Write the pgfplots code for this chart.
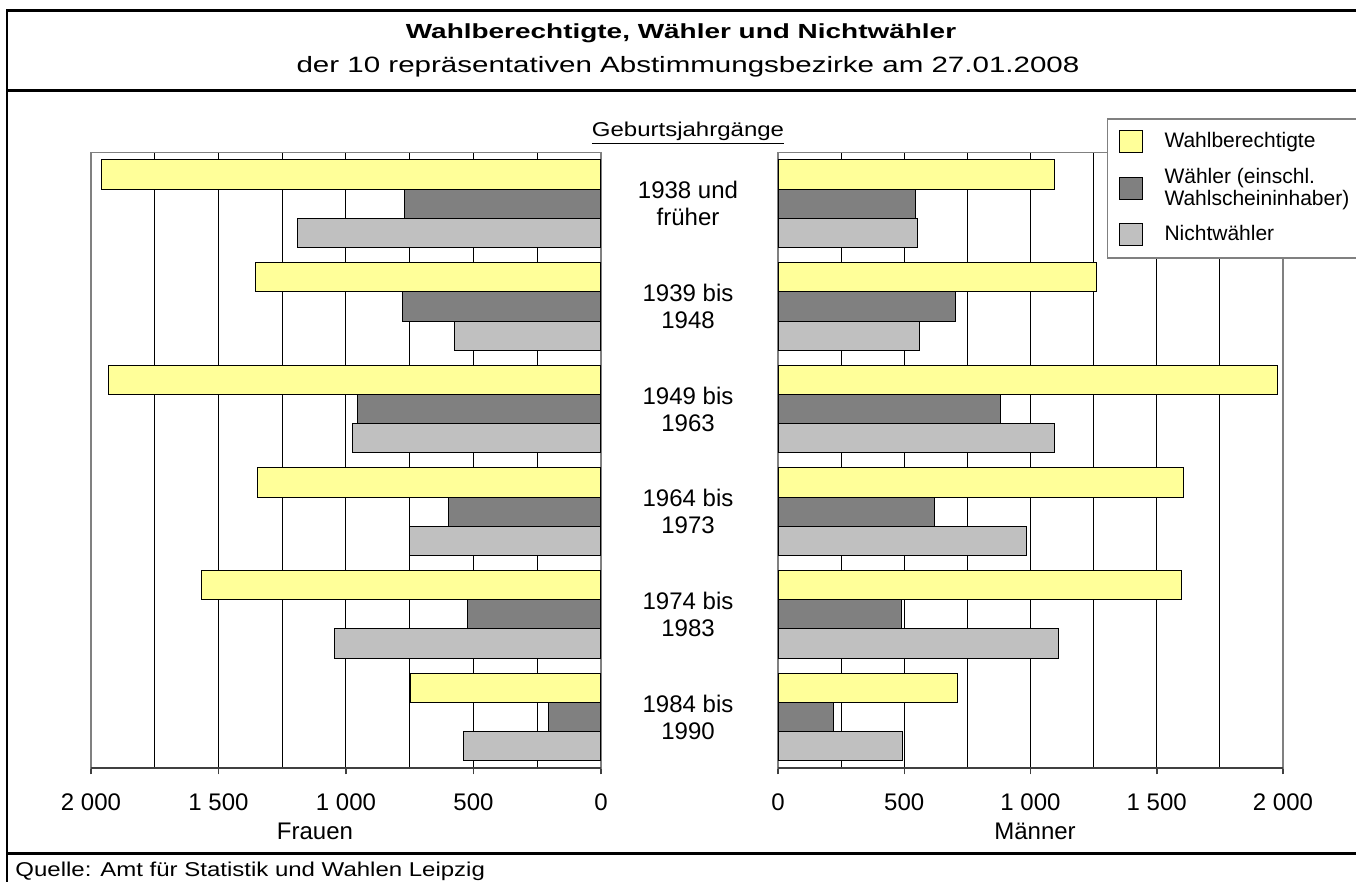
\documentclass[border=0pt]{standalone}
\usepackage{fontspec}
\setmainfont{Liberation Sans}
\newfontfamily\titlefont[FakeStretch=1.37]{Liberation Sans}
\newfontfamily\subfont[FakeStretch=1.33]{Liberation Sans}
\newfontfamily\widefont[FakeStretch=1.2]{Liberation Sans}
\usepackage{pgfplots}
\pgfplotsset{compat=1.18}
\definecolor{wb}{HTML}{FFFF99}
\definecolor{wa}{HTML}{808080}
\definecolor{nw}{HTML}{C0C0C0}
\definecolor{frame}{HTML}{808080}

\pgfplotsset{
  halfbar/.style={
    scale only axis, height=307.9pt,
    xbar, xmin=0, xmax=2000, ymin=-0.5, ymax=5.5, y dir=reverse,
    ytick=\empty,
    xtick={0,500,1000,1500,2000},
    xticklabels={0,500,1~000,1~500,2~000},
    minor xtick={250,750,1250,1750},
    xmajorgrids, xminorgrids,
    major grid style={black, line width=0.5pt},
    minor grid style={black, line width=0.5pt},
    tick align=outside, xtick pos=bottom,
    major tick length=3pt, minor tick length=0pt,
    tick style={draw=black!75, line width=0.75pt},
    axis line style={draw=frame, line width=0.9pt},
    xticklabel style={font=\fontsize{12}{14}\selectfont, anchor=base, yshift=-18.3pt},
    bar width=0.285,
    clip=false,
  },
}

\begin{document}
\begin{tikzpicture}
\begin{scope}[x=0.5pt,y=0.5pt]
% frame
\draw[line width=1.3pt] (7,-5) -- (7,871.3) -- (1370,871.3);
\draw[line width=1.3pt] (7,791.3) -- (1370,791.3);
\draw[line width=1.3pt] (7,28.3) -- (1370,28.3);
% titles
\node[anchor=base, inner sep=0pt, font=\titlefont\bfseries\fontsize{10.2}{12}\selectfont] at (681,843) {Wahlberechtigte, Wähler und Nichtwähler};
\node[anchor=base, inner sep=0pt, font=\subfont\fontsize{11.1}{13}\selectfont] at (688,809) {der 10 repräsentativen Abstimmungsbezirke am 27.01.2008};
\node[anchor=base, inner sep=0pt, font=\widefont\fontsize{10}{12}\selectfont] at (688,745.3) {\underline{Geburtsjahrgänge}};
\node[anchor=base west, inner sep=0pt, font=\widefont\fontsize{10}{12}\selectfont] at (15,5) {Quelle: Amt für Statistik und Wahlen Leipzig};
\node[anchor=base, inner sep=0pt, font=\fontsize{12}{14}\selectfont] at (315,42) {Frauen};
\node[anchor=base, inner sep=0pt, font=\fontsize{12}{14}\selectfont] at (1035,42) {Männer};
\end{scope}

% Frauen
\begin{axis}[halfbar, at={(45.5pt,56.85pt)}, anchor=south west, width=255pt, x dir=reverse]
\addplot[fill=wb, draw=black, line width=0.5pt, bar shift=-0.285] coordinates {(1959,0) (1354,1) (1932,2) (1347,3) (1568,4) (748,5)};
\addplot[fill=wa, draw=black, line width=0.5pt, bar shift=0] coordinates {(770,0) (778,1) (956,2) (598,3) (522,4) (207,5)};
\addplot[fill=nw, draw=black, line width=0.5pt, bar shift=0.285] coordinates {(1189,0) (576,1) (976,2) (749,3) (1046,4) (541,5)};
\draw[black!75, line width=0.9pt] (rel axis cs:0,0) -- (rel axis cs:1,0);
\end{axis}

% Maenner
\begin{axis}[halfbar, at={(389pt,56.85pt)}, anchor=south west, width=252.5pt,
  legend style={at={(0.651,1.056)}, anchor=north west, draw=frame, line width=0.75pt,
    font=\fontsize{10.5}{11.2}\selectfont, cells={anchor=west, align=left},
    inner xsep=5.5pt, inner ysep=5pt, row sep=4.5pt, column sep=9pt},
  legend image code/.code={\draw[#1, line width=0.5pt] (0pt,-5.5pt) rectangle (11.5pt,5.5pt);},
]
\addplot[fill=wb, draw=black, line width=0.5pt, bar shift=-0.285] coordinates {(1097,0) (1261,1) (1978,2) (1605,3) (1599,4) (712,5)};
\addlegendentry{Wahlberechtigte}
\addplot[fill=wa, draw=black, line width=0.5pt, bar shift=0] coordinates {(544,0) (702,1) (882,2) (619,3) (489,4) (220,5)};
\addlegendentry{Wähler (einschl.\\Wahlscheininhaber)}
\addplot[fill=nw, draw=black, line width=0.5pt, bar shift=0.285] coordinates {(551,0) (559,1) (1096,2) (986,3) (1110,4) (492,5)};
\addlegendentry{Nichtwähler}
\draw[black!75, line width=0.9pt] (rel axis cs:0,0) -- (rel axis cs:1,0);
\begin{scope}[every node/.style={align=center, font=\fontsize{12}{13.5}\selectfont}]
\node at (axis cs:-356.4,0) {1938 und\\früher};
\node at (axis cs:-356.4,1) {1939 bis\\1948};
\node at (axis cs:-356.4,2) {1949 bis\\1963};
\node at (axis cs:-356.4,3) {1964 bis\\1973};
\node at (axis cs:-356.4,4) {1974 bis\\1983};
\node at (axis cs:-356.4,5) {1984 bis\\1990};
\end{scope}
\end{axis}
\pgfresetboundingbox
\path[use as bounding box] (0,0) rectangle (678pt,441pt);
\end{tikzpicture}
\end{document}
